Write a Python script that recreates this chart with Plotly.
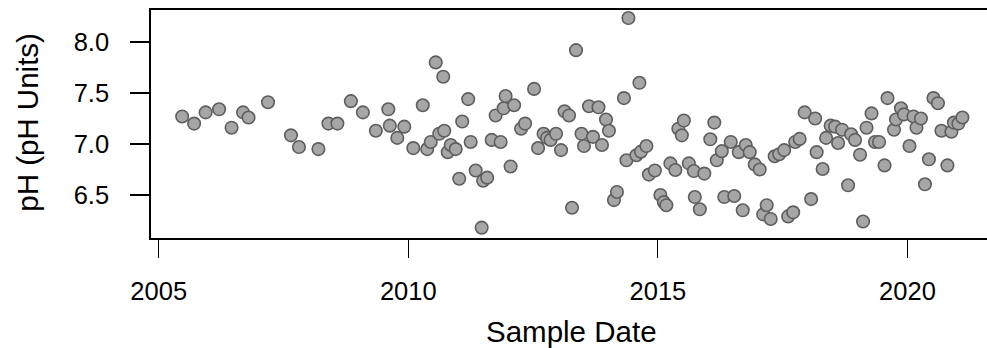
import plotly.graph_objects as go

# Sample dates (decimal years) and measured pH
sample_year = [
    2005.47, 2005.71, 2005.94, 2006.21, 2006.46, 2006.69, 2006.80, 2007.19,
    2007.65, 2007.81, 2008.20, 2008.40, 2008.58, 2008.85, 2009.09, 2009.35,
    2009.60, 2009.63, 2009.78, 2009.92, 2010.10, 2010.29, 2010.38, 2010.45,
    2010.55, 2010.62, 2010.70, 2010.72, 2010.79, 2010.85, 2010.95, 2011.02,
    2011.08, 2011.20, 2011.25, 2011.35, 2011.47, 2011.50, 2011.58, 2011.67,
    2011.75, 2011.85, 2011.91, 2011.95, 2012.05, 2012.12, 2012.26, 2012.34,
    2012.52, 2012.60, 2012.71, 2012.78, 2012.85, 2012.96, 2013.06, 2013.13,
    2013.22, 2013.28, 2013.36, 2013.47, 2013.52, 2013.62, 2013.70, 2013.81,
    2013.88, 2013.96, 2014.02, 2014.12, 2014.18, 2014.32, 2014.37, 2014.41,
    2014.57, 2014.63, 2014.66, 2014.77, 2014.82, 2014.94, 2015.05, 2015.12,
    2015.17, 2015.25, 2015.35, 2015.41, 2015.48, 2015.52, 2015.62, 2015.72,
    2015.74, 2015.84, 2015.93, 2016.05, 2016.13, 2016.18, 2016.28, 2016.33,
    2016.46, 2016.53, 2016.62, 2016.70, 2016.76, 2016.84, 2016.94, 2017.04,
    2017.11, 2017.18, 2017.26, 2017.34, 2017.43, 2017.53, 2017.61, 2017.71,
    2017.75, 2017.84, 2017.94, 2018.07, 2018.15, 2018.18, 2018.30, 2018.37,
    2018.46, 2018.55, 2018.61, 2018.69, 2018.81, 2018.87, 2018.95, 2019.05,
    2019.11, 2019.18, 2019.28, 2019.35, 2019.43, 2019.54, 2019.60, 2019.73,
    2019.77, 2019.87, 2019.93, 2020.04, 2020.12, 2020.18, 2020.27, 2020.35,
    2020.43, 2020.52, 2020.61, 2020.68, 2020.80, 2020.88, 2020.93, 2021.02,
    2021.10,
]
ph_value = [
    7.27, 7.20, 7.31, 7.34, 7.16, 7.31, 7.26, 7.41,
    7.085, 6.97, 6.95, 7.20, 7.20, 7.42, 7.31, 7.13,
    7.34, 7.18, 7.06, 7.17, 6.96, 7.38, 6.95, 7.02,
    7.80, 7.10, 7.66, 7.13, 6.92, 6.99, 6.95, 6.66,
    7.22, 7.44, 7.02, 6.74, 6.18, 6.64, 6.67, 7.04,
    7.28, 7.02, 7.35, 7.47, 6.78, 7.38, 7.15, 7.20,
    7.54, 6.96, 7.10, 7.06, 7.04, 7.10, 6.94, 7.32,
    7.28, 6.375, 7.92, 7.10, 6.98, 7.37, 7.07, 7.36,
    6.99, 7.24, 7.13, 6.45, 6.53, 7.45, 6.84, 8.235,
    6.89, 7.60, 6.925, 6.98, 6.70, 6.74, 6.50, 6.43,
    6.40, 6.81, 6.745, 7.15, 7.085, 7.23, 6.81, 6.735,
    6.48, 6.36, 6.71, 7.046, 7.21, 6.84, 6.93, 6.48,
    7.02, 6.49, 6.92, 6.35, 6.99, 6.92, 6.80, 6.75,
    6.31, 6.40, 6.265, 6.88, 6.90, 6.94, 6.29, 6.33,
    7.02, 7.05, 7.31, 6.46, 7.25, 6.92, 6.755, 7.06,
    7.18, 7.17, 7.01, 7.14, 6.595, 7.095, 7.04, 6.895,
    6.24, 7.16, 7.30, 7.02, 7.02, 6.79, 7.45, 7.14,
    7.24, 7.35, 7.29, 6.98, 7.27, 7.16, 7.25, 6.605,
    6.85, 7.45, 7.40, 7.13, 6.79, 7.12, 7.21, 7.20,
    7.26,
]

x_ticks = [2005, 2010, 2015, 2020]
x_tick_labels = ["2005", "2010", "2015", "2020"]
y_ticks = [6.5, 7.0, 7.5, 8.0]
y_tick_labels = ["6.5", "7.0", "7.5", "8.0"]

FONT = "Liberation Sans, Arial, sans-serif"

fig = go.Figure(
    go.Scatter(
        x=sample_year,
        y=ph_value,
        mode="markers",
        marker=dict(size=12.5, color="#a6a6a6",
                    line=dict(color="#5e5e5e", width=1.6)),
        hoverinfo="x+y",
    )
)

fig.update_layout(
    width=987,
    height=348,
    margin=dict(l=151, r=0, t=10, b=110, pad=0),
    paper_bgcolor="white",
    plot_bgcolor="white",
    showlegend=False,
    font=dict(family=FONT, color="black"),
)

fig.update_xaxes(
    range=[2004.846, 2021.593],
    tickvals=x_ticks,
    ticktext=x_tick_labels,
    ticks="outside",
    ticklen=18,
    tickwidth=1.2,
    tickcolor="black",
    ticklabelstandoff=12,
    tickfont=dict(size=25.5, family=FONT, color="black"),
    showline=True,
    linecolor="black",
    linewidth=1.6,
    mirror=True,
    showgrid=False,
    zeroline=False,
)

fig.update_yaxes(
    range=[6.0784, 8.3137],
    tickvals=y_ticks,
    ticktext=y_tick_labels,
    ticks="outside",
    ticklen=19,
    tickwidth=1.6,
    tickcolor="black",
    ticklabelstandoff=16,
    tickfont=dict(size=25.5, family=FONT, color="black"),
    showline=True,
    linecolor="black",
    linewidth=1.6,
    mirror=False,
    showgrid=False,
    zeroline=False,
)

# Axis titles
fig.add_annotation(
    text="Sample Date", xref="paper", yref="paper",
    x=0.5034, y=-0.408, xanchor="center", yanchor="middle",
    showarrow=False, font=dict(size=29.5, family=FONT, color="black"),
)
fig.add_annotation(
    text="pH (pH Units)", xref="paper", yref="paper",
    x=-0.148, y=0.5066, xanchor="center", yanchor="middle",
    textangle=-90, showarrow=False,
    font=dict(size=29.5, family=FONT, color="black"),
)

fig.write_html("out.html")
